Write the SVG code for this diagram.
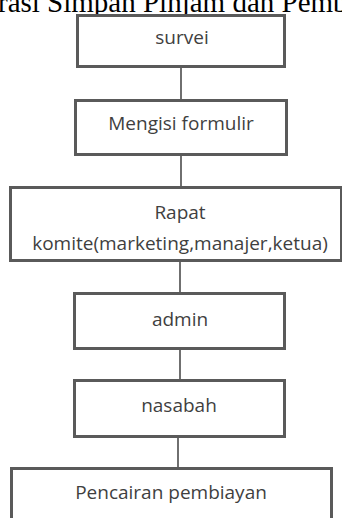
<svg xmlns="http://www.w3.org/2000/svg" width="342" height="518" viewBox="0 0 342 518">
<style>
.box{fill:#fff;stroke:#5a5a5a;stroke-width:3}
.lbl{font-family:"Open Sans","Liberation Sans",sans-serif;font-size:19px;fill:#3f3f3f;text-anchor:middle;dominant-baseline:central}
.title{font-family:"Liberation Serif","Times New Roman",serif;font-size:29px;fill:#000}
.conn{stroke:#222;stroke-width:1.3;fill:none}
</style>
<rect width="342" height="518" fill="#fff"/>
<text class="title" x="-2" y="12">rasi Simpan Pinjam dan Pemb</text>
<g id="connectors">
<line class="conn" x1="181" y1="67" x2="181" y2="100"/>
<line class="conn" x1="181" y1="155" x2="181" y2="187"/>
<line class="conn" x1="180" y1="261" x2="180" y2="293"/>
<line class="conn" x1="180" y1="349" x2="180" y2="380"/>
<line class="conn" x1="178" y1="437" x2="178" y2="468"/>
</g>
<g id="survei">
<rect class="box" x="77.5" y="15.5" width="207" height="51"/>
<text class="lbl" x="182" y="37">survei</text>
</g>
<g id="mengisi">
<rect class="box" x="75.5" y="100.5" width="211" height="54"/>
<text class="lbl" x="181" y="123">Mengisi formulir</text>
</g>
<g id="rapat">
<rect class="box" x="10.5" y="187.5" width="331" height="73"/>
<text class="lbl" x="180" y="212">Rapat</text>
<text class="lbl" x="180" y="243">komite(marketing,manajer,ketua)</text>
</g>
<g id="admin">
<rect class="box" x="74.5" y="293.5" width="210" height="55"/>
<text class="lbl" x="180" y="319">admin</text>
</g>
<g id="nasabah">
<rect class="box" x="74.5" y="380.5" width="210" height="56"/>
<text class="lbl" x="179" y="405">nasabah</text>
</g>
<g id="pencairan">
<rect class="box" x="11.5" y="468.5" width="320" height="60"/>
<text class="lbl" x="171" y="492">Pencairan pembiayan</text>
</g>
</svg>
